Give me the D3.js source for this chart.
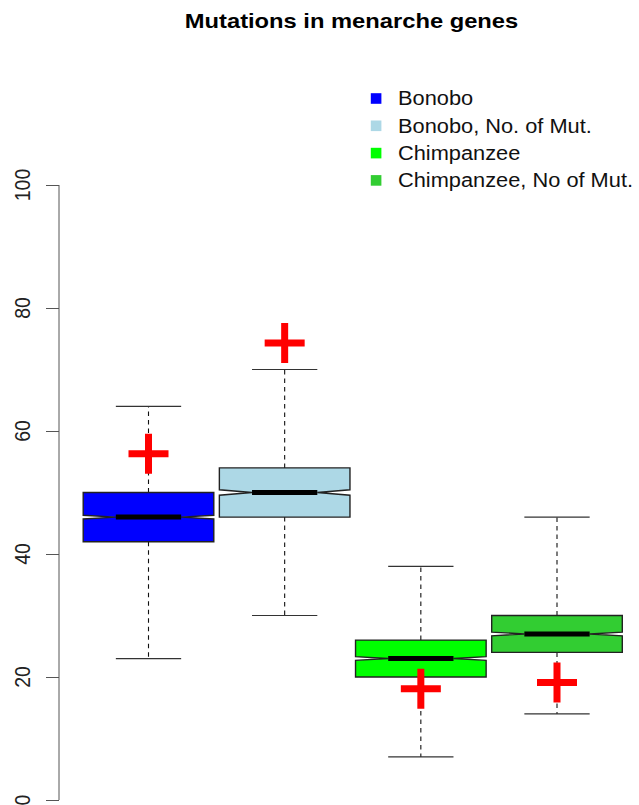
<!DOCTYPE html>
<html>
<head>
<meta charset="utf-8">
<script src="https://cdn.jsdelivr.net/npm/d3@7"></script>
<style>
  html, body { margin: 0; padding: 0; background: #fff; }
  svg { display: block; }
  text { font-family: "Liberation Sans", Arial, Helvetica, sans-serif; }
</style>
</head>
<body>
<svg id="chart" width="639" height="805"></svg>
<script>
// Groups and their five-number summaries
const categories = ["Bonobo", "Bonobo, No. of Mut.", "Chimpanzee", "Chimpanzee, No of Mut."];
const whiskerLow  = [23, 30, 7, 14];
const lowerQuart  = [42, 46, 20, 24];
const medians     = [46, 50, 23, 27];
const upperQuart  = [50, 54, 26, 30];
const whiskerHigh = [64, 70, 38, 46];
// half-height of the notch around each median
const notchHalf   = [0.3, 0.45, 0.3, 0.3];
// observed value marked with a red cross per group
const observed    = [56.3, 74.3, 18.1, 19.1];
const yTicks      = [0, 20, 40, 60, 80, 100];

const fills = ["#0000FF", "#ADD8E6", "#00FF00", "#32CD32"];

const W = 639, H = 805;
const SX = 1.13; // horizontal stretch of the text glyphs

const svg = d3.select("#chart");

const y = d3.scaleLinear().domain([0, 100]).range([800, 185]);
const x = d3.scalePoint().domain(categories).range([148.5, 557]);
const halfW = 65.3;

const rows = categories.map((c, i) => ({
  cat: c, lo: whiskerLow[i], q1: lowerQuart[i], med: medians[i],
  q3: upperQuart[i], hi: whiskerHigh[i], notch: notchHalf[i],
  obs: observed[i], fill: fills[i]
}));

// Title
svg.append("text")
  .attr("transform", `translate(351.5,28) scale(${SX},1)`)
  .attr("text-anchor", "middle")
  .attr("font-size", 21)
  .attr("font-weight", "bold")
  .attr("fill", "#000")
  .text("Mutations in menarche genes");

// Y axis
const axisX = 59;
const yAxis = d3.axisLeft(y).tickValues(yTicks).tickSize(13).tickFormat(() => "");
const gAxis = svg.append("g").attr("transform", `translate(${axisX},0)`).call(yAxis);
gAxis.select(".domain").attr("stroke", "#555").attr("d", `M0,${y(0)}V${y(100)}`);
gAxis.selectAll(".tick line").attr("stroke", "#555");

svg.append("g").selectAll("text")
  .data(yTicks)
  .join("text")
  .attr("transform", d => `translate(22.5,${y(d)}) scale(${SX},1) rotate(-90)`)
  .attr("text-anchor", "middle")
  .attr("dy", "0.36em")
  .attr("font-size", 19.5)
  .attr("fill", "#222")
  .text(d => d);

const g = svg.append("g");

// Whiskers (dashed) and caps
rows.forEach(r => {
  const cx = x(r.cat);
  g.append("line")
    .attr("x1", cx).attr("x2", cx).attr("y1", y(r.q3)).attr("y2", y(r.hi))
    .attr("stroke", "#111").attr("stroke-width", 1.1).attr("stroke-dasharray", "4.5,4");
  g.append("line")
    .attr("x1", cx).attr("x2", cx).attr("y1", y(r.q1)).attr("y2", y(r.lo))
    .attr("stroke", "#111").attr("stroke-width", 1.1).attr("stroke-dasharray", "4.5,4");
  [r.hi, r.lo].forEach(v => {
    g.append("line")
      .attr("x1", cx - halfW / 2).attr("x2", cx + halfW / 2)
      .attr("y1", y(v)).attr("y2", y(v))
      .attr("stroke", "#333").attr("stroke-width", 1.2);
  });
});

// Notched boxes
rows.forEach(r => {
  const cx = x(r.cat);
  const x0 = cx - halfW, x1 = cx + halfW;
  const xi0 = cx - halfW / 2, xi1 = cx + halfW / 2;
  const pts = [
    [x0, y(r.q1)], [x0, y(r.med - r.notch)], [xi0, y(r.med)], [x0, y(r.med + r.notch)],
    [x0, y(r.q3)], [x1, y(r.q3)], [x1, y(r.med + r.notch)], [xi1, y(r.med)],
    [x1, y(r.med - r.notch)], [x1, y(r.q1)]
  ];
  g.append("path")
    .attr("d", d3.line()(pts) + "Z")
    .attr("fill", r.fill)
    .attr("stroke", "#222")
    .attr("stroke-width", 1.4)
    .attr("stroke-linejoin", "miter");
  g.append("line")
    .attr("x1", xi0).attr("x2", xi1).attr("y1", y(r.med)).attr("y2", y(r.med))
    .attr("stroke", "#000").attr("stroke-width", 5);
});

// Red crosses at the observed values
const arm = 20;
rows.forEach(r => {
  const cx = x(r.cat), cy = y(r.obs);
  g.append("path")
    .attr("d", `M${cx - arm},${cy}H${cx + arm}M${cx},${cy - arm}V${cy + arm}`)
    .attr("stroke", "#FF0000")
    .attr("stroke-width", 7)
    .attr("fill", "none");
});

// Legend
const leg = svg.append("g");
rows.forEach((r, i) => {
  const cy = 98.5 + i * 27.3;
  leg.append("rect")
    .attr("x", 370.8).attr("y", cy - 5.3).attr("width", 10.6).attr("height", 10.6)
    .attr("fill", r.fill);
  leg.append("text")
    .attr("transform", `translate(398,${cy + 6.9}) scale(${SX},1)`)
    .attr("font-size", 19.3)
    .attr("fill", "#111")
    .text(r.cat);
});
</script>
</body>
</html>
